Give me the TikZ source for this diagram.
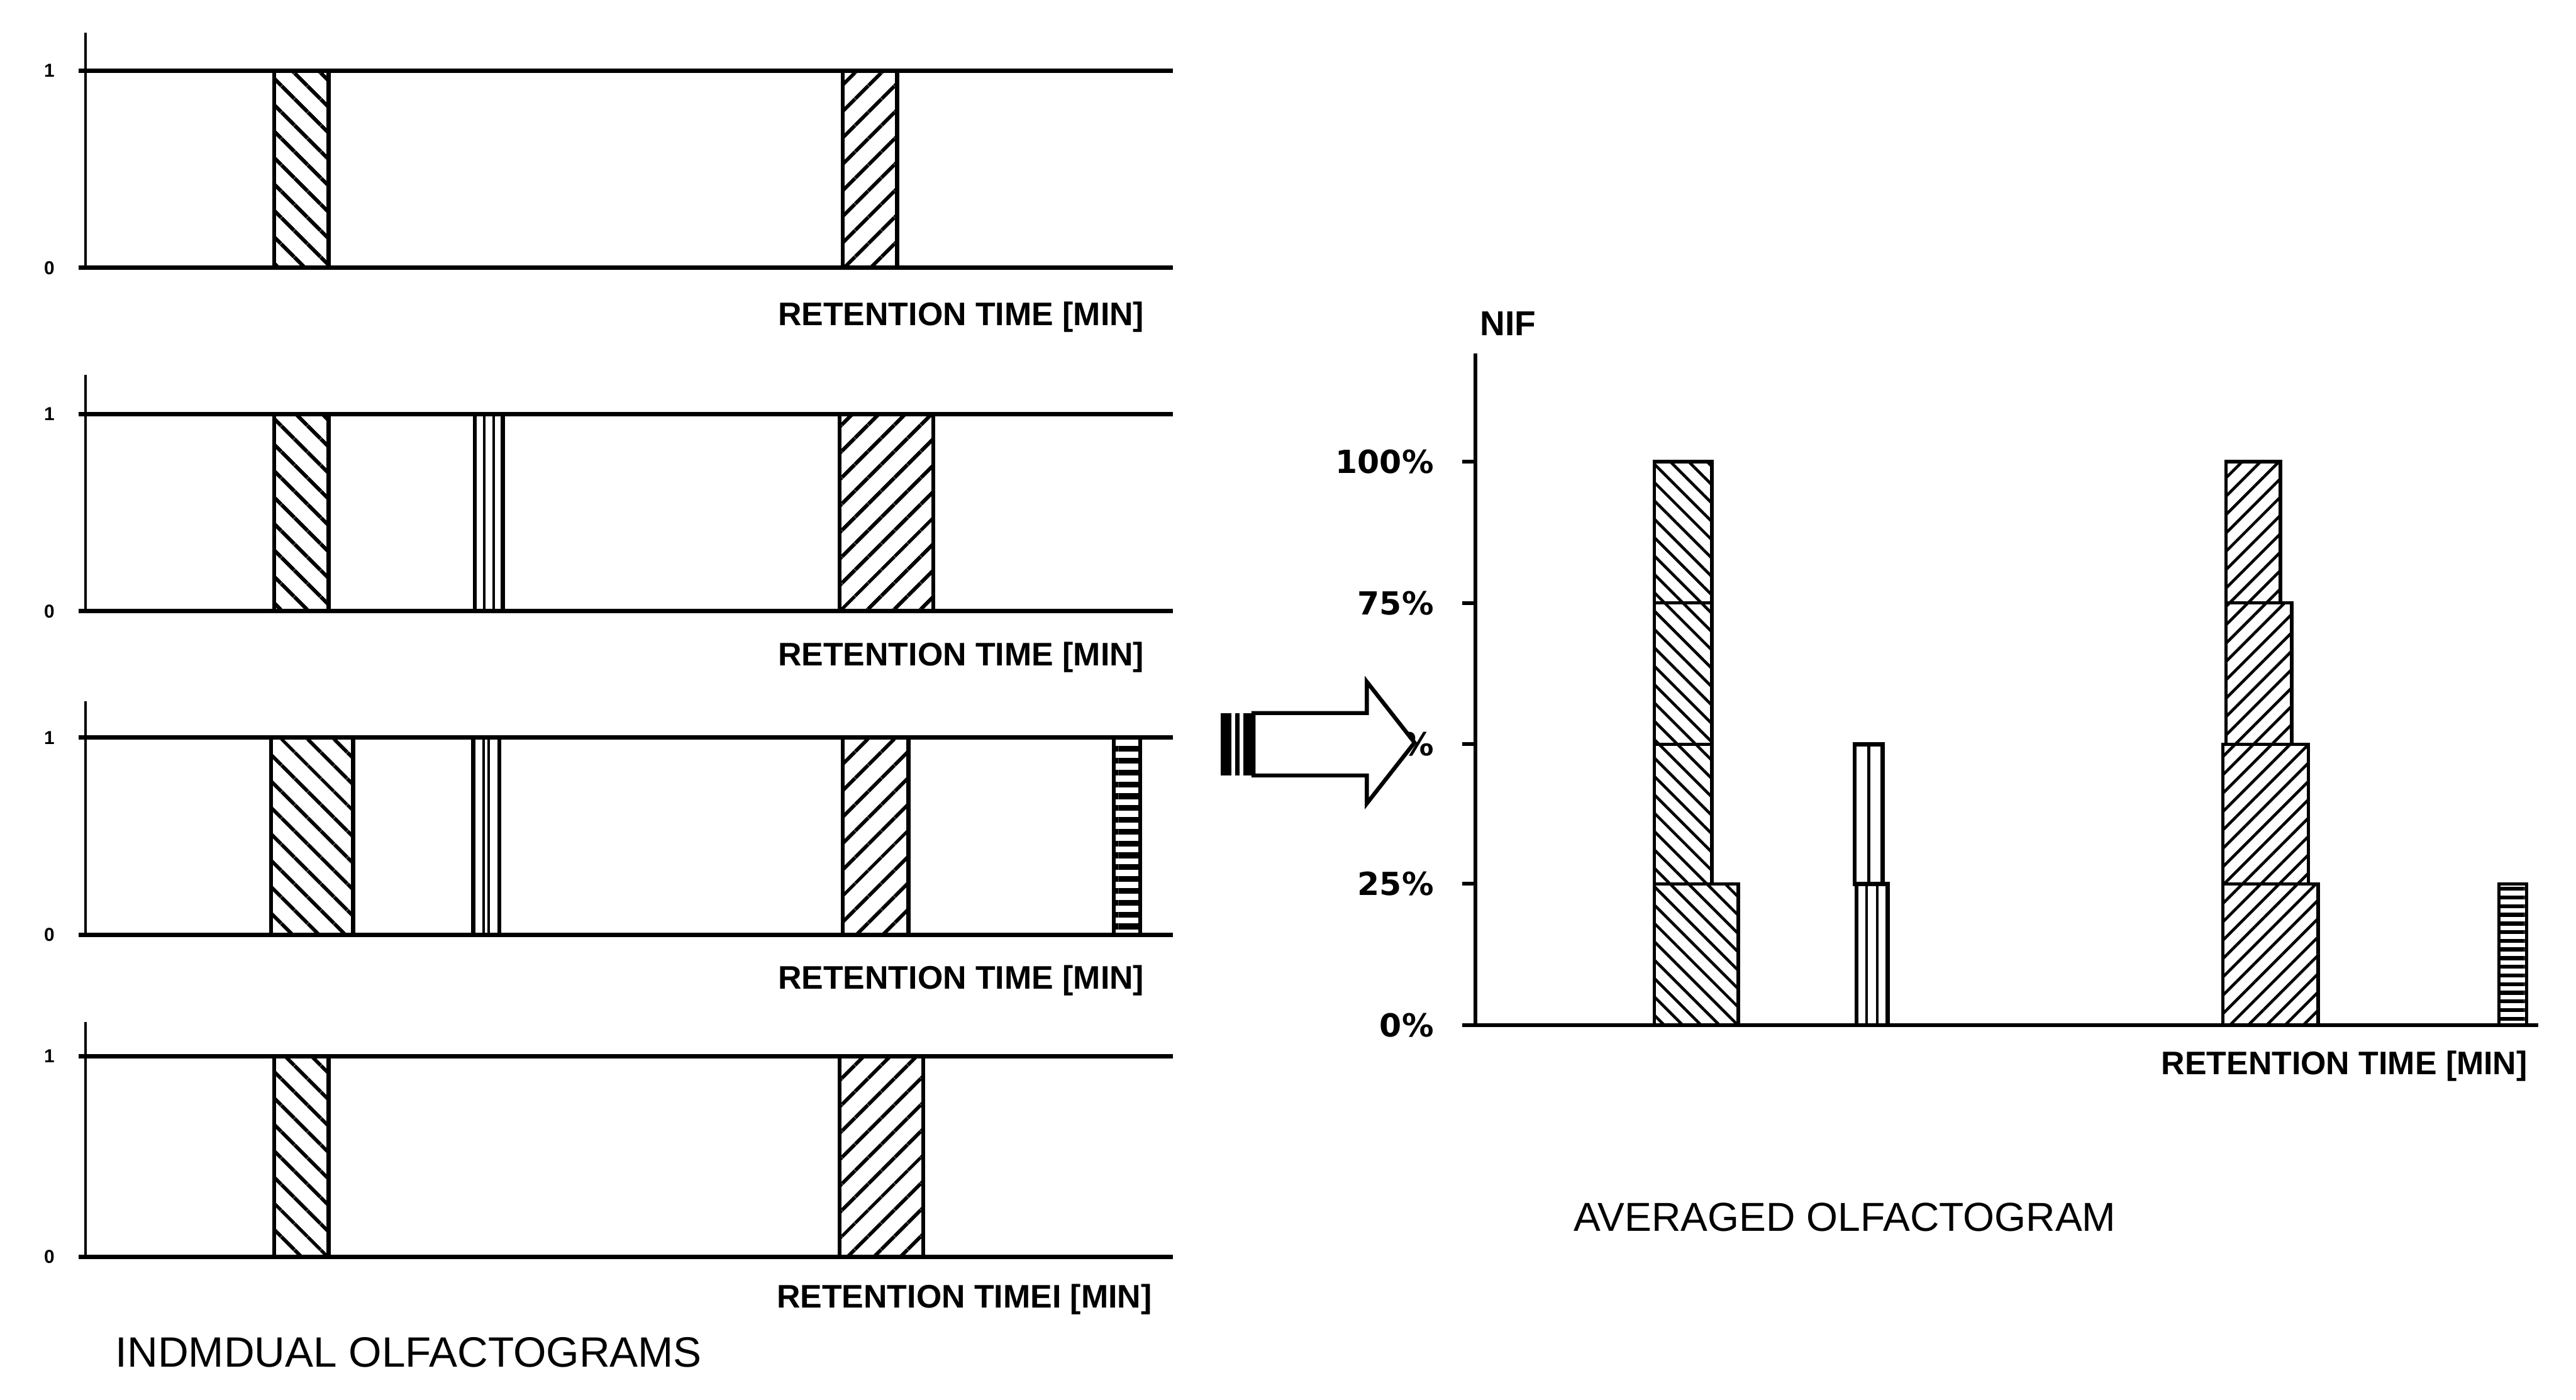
\documentclass[tikz,border=0pt]{standalone}
\usepackage{fontspec}
\setmainfont{Liberation Sans}
\newfontfamily\pctfont{DejaVu Sans}
\usepackage{tikz}
\usetikzlibrary{patterns.meta}
\newcommand{\colbar}[5]{\draw[barline] (#1,#3) rectangle (#2,#4);
\foreach \f in {#5} {\draw[line width=0.9pt] ({#1+\f*(#2-#1)},#3) -- ({#1+\f*(#2-#1)},#4);}}
\newcommand{\rtlabel}{RETENTION TIME [MIN]}

\begin{document}
\begin{tikzpicture}[x=0.02cm,y=-0.02cm]
\tikzstyle{every node}=[inner sep=0pt]
\tikzstyle{barline}=[draw,line width=1.4pt]
\tikzstyle{hatchA}=[barline,pattern={Lines[angle=-45,distance=6.4pt,line width=1.3pt]}]
\tikzstyle{hatchB}=[barline,pattern={Lines[angle=45,distance=6.4pt,line width=1.3pt]}]
\tikzstyle{hatchH}=[barline,pattern={Lines[angle=0,distance=4.1pt,line width=2pt]}]
\tikzstyle{stackA}=[draw,line width=1.2pt,pattern={Lines[angle=-45,distance=4.5pt,line width=1pt]}]
\tikzstyle{stackB}=[draw,line width=1.2pt,pattern={Lines[angle=45,distance=4.5pt,line width=1pt]}]
\tikzstyle{stackH}=[draw,line width=1.2pt,pattern={Lines[angle=0,distance=3pt,line width=1.4pt]}]
\tikzstyle{mainline}=[line width=1.5pt]
\tikzstyle{ticklab}=[font=\fontsize{6.5}{7}\selectfont\bfseries]
\tikzstyle{rtlab}=[font=\fontsize{11.3}{13}\selectfont\bfseries]
\tikzstyle{pctlab}=[anchor=east,font=\fontsize{11}{13}\pctfont\bfseries]
\tikzstyle{title}=[font=\fontsize{14}{16}\selectfont]
\useasboundingbox (0,0) rectangle (1568,852);

% individual olfactograms
\foreach \t/\b/\a/\i in {43/163/20/1,252/372/228/2,449/569/427/3,643/765/622/4} {
  \draw[line width=1pt] (52,\a) -- (52,\b);
  \node[ticklab] (one\i) at (30,\t) {1};
  \node[ticklab] (zero\i) at (30,\b) {0};
}
\draw[hatchA] (167,43) rectangle (200,163);
\draw[hatchB] (513,43) rectangle (546,163);
\draw[hatchA] (167,252) rectangle (200,372);
\colbar{289}{306}{252}{372}{0.33,0.67}
\draw[hatchB] (511,252) rectangle (568,372);
\draw[hatchA] (165,449) rectangle (215,569);
\colbar{288}{304}{449}{569}{0.4,0.6}
\draw[hatchB] (513,449) rectangle (553,569);
\draw[hatchH] (678,449) rectangle (694,569);
\draw[hatchA] (167,643) rectangle (200,765);
\draw[hatchB] (511,643) rectangle (562,765);
\foreach \t/\b in {43/163,252/372,449/569,643/765} {
  \draw[mainline] (48,\t) -- (714,\t);
  \draw[mainline] (48,\b) -- (714,\b);
}
\node[rtlab] (rt1) at (585,193) {\rtlabel};
\node[rtlab] (rt2) at (585,400) {\rtlabel};
\node[rtlab] (rt3) at (585,597) {\rtlabel};
\node[rtlab] (rt4) at (587,791) {RETENTION TIMEI [MIN]};
\node[title,font=\fontsize{14.7}{16}\selectfont,anchor=west] (indiv) at (70,823) {INDMDUAL OLFACTOGRAMS};

% averaged olfactogram
\draw[line width=1.3pt] (898,215) -- (898,624);
\draw[line width=1.3pt] (890,624) -- (1545,624);
\foreach \y in {281,367,453,538} {\draw[line width=1.3pt] (890,\y) -- (898,\y);}
\node[font=\fontsize{12}{14}\selectfont\bfseries] (nif) at (918,197) {NIF};
\node[pctlab] (p100) at (873,281) {100\%};
\node[pctlab] (p75) at (873,367) {75\%};
\node[pctlab] (p50) at (873,453) {50\%};
\node[pctlab] (p25) at (873,538) {25\%};
\node[pctlab] (p0) at (873,624) {0\%};
\draw[stackA] (1007,281) rectangle (1042,367);
\draw[stackA] (1007,367) rectangle (1042,453);
\draw[stackA] (1007,453) rectangle (1042,538);
\draw[stackA] (1007,538) rectangle (1058,624);
\colbar{1129}{1146}{453}{538}{0.5}
\colbar{1130}{1149}{538}{624}{0.33,0.67}
\draw[stackB] (1355,281) rectangle (1388,367);
\draw[stackB] (1355,367) rectangle (1395,453);
\draw[stackB] (1353,453) rectangle (1405,538);
\draw[stackB] (1353,538) rectangle (1411,624);
\draw[stackH] (1521,538) rectangle (1538,624);
\node[rtlab] (rt5) at (1427,649) {\rtlabel};
\node[title] (avg) at (1123,741) {AVERAGED OLFACTOGRAM};

% block arrow
\draw[fill=white,line width=1.4pt] (763,434) -- (832,434) -- (832,415) -- (861,452)
  -- (832,489) -- (832,472) -- (763,472) -- cycle;
\fill (743,434) rectangle (749.5,472);
\fill (752,434) rectangle (754.5,472);
\fill (757,434) rectangle (763,472);
\end{tikzpicture}
\end{document}
